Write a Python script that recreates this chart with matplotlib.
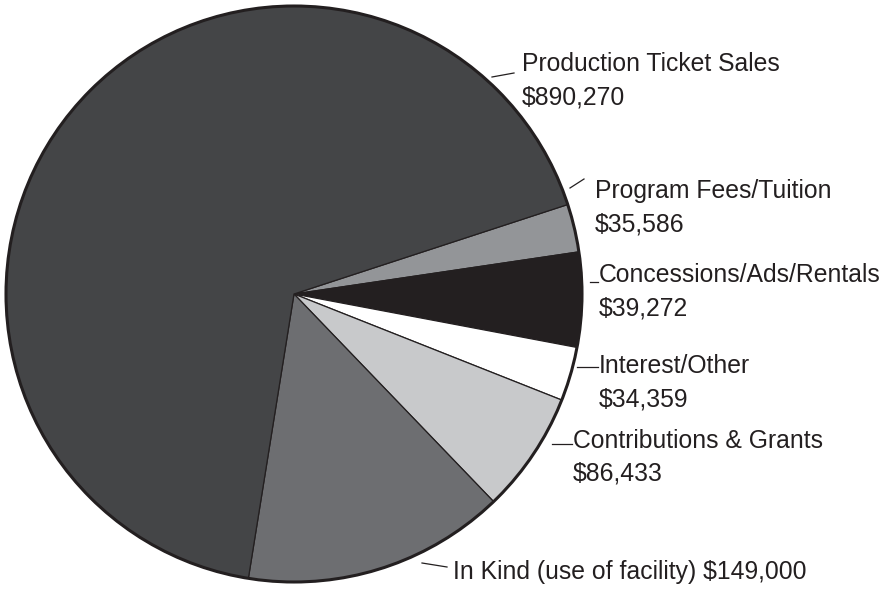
import matplotlib.pyplot as plt
from matplotlib.patches import Circle

# slices in drawing order (clockwise from the right side)
labels = ["Program Fees/Tuition", "Concessions/Ads/Rentals", "Interest/Other",
          "Contributions & Grants", "In Kind (use of facility)", "Production Ticket Sales"]
amounts = ["$35,586", "$39,272", "$34,359", "$86,433", "$149,000", "$890,270"]
# share of the circle as drawn in the picture (percent)
shares = [2.69, 5.31, 3.03, 6.81, 14.72, 67.44]
colors = ["#939598", "#231f20", "#ffffff", "#c8c9cb", "#6d6e71", "#444547"]

W, H = 887, 589
ink = "#231f20"

fig = plt.figure(figsize=(W / 100, H / 100), dpi=100)
ax = fig.add_axes([0, 0, 1, 1])

cx, cy, r = 294, H - 294, 288
ax.pie(shares, colors=colors, startangle=18.1, counterclock=False,
       center=(cx, cy), radius=r,
       wedgeprops=dict(edgecolor=ink, linewidth=0.9))
ax.add_patch(Circle((cx, cy), r, fill=False, edgecolor=ink, linewidth=2.2))

ax.set_xlim(0, W)
ax.set_ylim(0, H)
ax.set_aspect("equal")
ax.axis("off")

# label placement in pixel coords (x, baseline of first line)
txt_pos = [(595, 198), (599, 282), (599, 373), (573, 448), (453, 579), (522, 71)]
leaders = [((570, 188), (584, 179)), ((590, 282), (598, 282)),
           ((577, 367), (598, 367)), ((552, 444), (572, 444)),
           ((422, 563), (447, 567)), ((492, 77), (514, 73))]

fs = 17.8
for i, (lab, amt) in enumerate(zip(labels, amounts)):
    x, y = txt_pos[i]
    if lab.startswith("In Kind"):
        ax.text(x, H - y, lab + " " + amt, fontsize=fs, family="Liberation Sans",
                color=ink, va="baseline", ha="left")
    else:
        ax.text(x, H - y, lab, fontsize=fs, family="Liberation Sans",
                color=ink, va="baseline", ha="left")
        ax.text(x, H - y - 33, amt, fontsize=fs, family="Liberation Sans",
                color=ink, va="baseline", ha="left")
    (x0, y0), (x1, y1) = leaders[i]
    ax.plot([x0, x1], [H - y0, H - y1], color=ink, linewidth=0.9)

fig.savefig("out.png", dpi=100, facecolor="white")
